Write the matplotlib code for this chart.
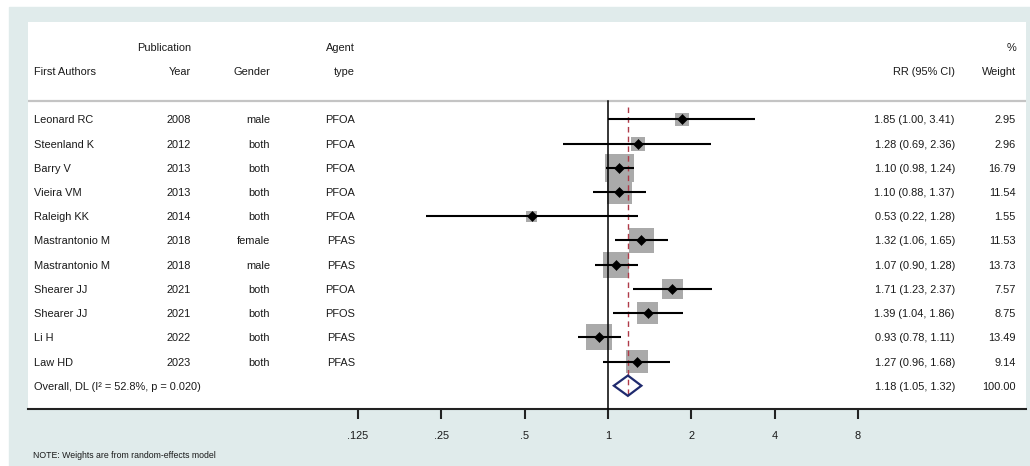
import numpy as np
import matplotlib
matplotlib.use("Agg")
import matplotlib.pyplot as plt
from matplotlib.patches import Rectangle, Polygon
from matplotlib.transforms import blended_transform_factory

plt.rcParams['font.family'] = ['Liberation Sans', 'DejaVu Sans']

# ---------------- data ----------------
authors = ["Leonard RC", "Steenland K", "Barry V", "Vieira VM", "Raleigh KK",
           "Mastrantonio M", "Mastrantonio M", "Shearer JJ", "Shearer JJ",
           "Li H", "Law HD"]
years = ["2008", "2012", "2013", "2013", "2014", "2018", "2018", "2021",
         "2021", "2022", "2023"]
genders = ["male", "both", "both", "both", "both", "female", "male", "both",
           "both", "both", "both"]
agents = ["PFOA", "PFOA", "PFOA", "PFOA", "PFOA", "PFAS", "PFAS", "PFOA",
          "PFOS", "PFAS", "PFAS"]
rr = [1.85, 1.28, 1.10, 1.10, 0.53, 1.32, 1.07, 1.71, 1.39, 0.93, 1.27]
ci_lo = [1.00, 0.69, 0.98, 0.88, 0.22, 1.06, 0.90, 1.23, 1.04, 0.78, 0.96]
ci_hi = [3.41, 2.36, 1.24, 1.37, 1.28, 1.65, 1.28, 2.37, 1.86, 1.11, 1.68]
weights = [2.95, 2.96, 16.79, 11.54, 1.55, 11.53, 13.73, 7.57, 8.75, 13.49, 9.14]

overall_label = "Overall, DL (I\u00b2 = 52.8%, p = 0.020)"
overall_rr = 1.18
overall_lo = 1.05
overall_hi = 1.32
overall_weight = 100.00

xticks = [0.125, 0.25, 0.5, 1, 2, 4, 8]
xticklabels = [".125", ".25", ".5", "1", "2", "4", "8"]

# ---------------- layout ----------------
W, H = 1030, 466
bg = "#e0ebeb"
txt = "#1a1a1a"
fs = 7.9

fig = plt.figure(figsize=(W / 100, H / 100), dpi=100, facecolor="white")
fig.patches.append(Rectangle((9 / W, 0), 1 - 9 / W, 1 - 7 / H,
                             transform=fig.transFigure, color=bg, zorder=-10))

px_left, px_right, px_top, px_bot = 28, 1026, 22, 409
ax = fig.add_axes([px_left / W, 1 - px_bot / H,
                   (px_right - px_left) / W, (px_bot - px_top) / H])
ax.set_facecolor("white")

# x: log2 scale, 1 at pixel 608, 83.33 px per doubling
px_one, px_oct = 608, 83.33
ax.set_xscale("log", base=2)
ax.set_xlim(2 ** ((px_left - px_one) / px_oct), 2 ** ((px_right - px_one) / px_oct))

# y: rows, row 0 at pixel 119.5, 24.2 px per row
row0, rowh = 119.5, 24.2
ax.set_ylim((px_bot - row0) / rowh, (px_top - row0) / rowh)

n = len(authors)
rows = np.arange(n)
overall_row = n

trans = blended_transform_factory(ax.transAxes, ax.transData)
def fx(px):
    return (px - px_left) / (px_right - px_left)

def put(px, y, s, ha):
    ax.text(fx(px), y, s, transform=trans, ha=ha, va="center_baseline",
            fontsize=fs, color=txt)

# headers
hdr1, hdr2 = -3, -2
put(34, hdr2, "First Authors", "left")
put(191, hdr1, "Publication", "right")
put(191, hdr2, "Year", "right")
put(270, hdr2, "Gender", "right")
put(355, hdr1, "Agent", "right")
put(355, hdr2, "type", "right")
put(955, hdr2, "RR (95% CI)", "right")
put(1016, hdr1, "%", "right")
put(1016, hdr2, "Weight", "right")

# separator
sep_y = (101 - row0) / rowh
ax.axhline(sep_y, color="#c4c4c4", lw=1.6, zorder=1)

# study rows
for i in range(n):
    y = rows[i]
    put(34, y, authors[i], "left")
    put(191, y, years[i], "right")
    put(270, y, genders[i], "right")
    put(355, y, agents[i], "right")
    put(955, y, f"{rr[i]:.2f} ({ci_lo[i]:.2f}, {ci_hi[i]:.2f})", "right")
    put(1016, y, f"{weights[i]:.2f}", "right")

# overall row text
put(34, overall_row, overall_label, "left")
put(955, overall_row, f"{overall_rr:.2f} ({overall_lo:.2f}, {overall_hi:.2f})", "right")
put(1016, overall_row, f"{overall_weight:.2f}", "right")

# null line
ax.plot([1, 1], [sep_y, (px_bot - row0) / rowh], color="black", lw=1.1, zorder=3, clip_on=False)
# overall dashed line
ax.plot([overall_rr, overall_rr], [-0.5, overall_row + 0.45], color="#b03a48", lw=1.0,
        ls=(0, (4, 3)), zorder=4)

# weight boxes
side_px = 3.3 + 6.2 * np.sqrt(np.array(weights))
side_pt = side_px * 0.72
ax.scatter(rr, rows, marker="s", s=side_pt ** 2, color="#aaaaaa", linewidths=0, zorder=2)

# CI lines
ax.hlines(rows, ci_lo, ci_hi, color="black", lw=1.5, zorder=5)
# point estimates
ax.plot(rr, rows, "D", ms=5.0, color="black", mew=0.4, zorder=6)

# overall diamond
dh = 0.42
ax.add_patch(Polygon([(overall_lo, overall_row), (overall_rr, overall_row - dh),
                      (overall_hi, overall_row), (overall_rr, overall_row + dh)],
                     closed=True, fill=False, ec="#1f2a6e", lw=1.6, zorder=6))

# axes styling
for s in ["top", "left", "right"]:
    ax.spines[s].set_visible(False)
ax.spines["bottom"].set_color("#222222")
ax.spines["bottom"].set_linewidth(1.5)
ax.set_yticks([])
ax.set_xticks(xticks)
ax.set_xticklabels(xticklabels)
ax.minorticks_off()
ax.tick_params(axis="x", length=7, width=1.5, pad=8.5, labelsize=fs, color="#222222",
               labelcolor=txt)

fig.text(33 / W, 1 - 455 / H, "NOTE: Weights are from random-effects model",
         fontsize=6.3, ha="left", va="center", color=txt)

fig.savefig("out.png", dpi=100, facecolor=fig.get_facecolor())
